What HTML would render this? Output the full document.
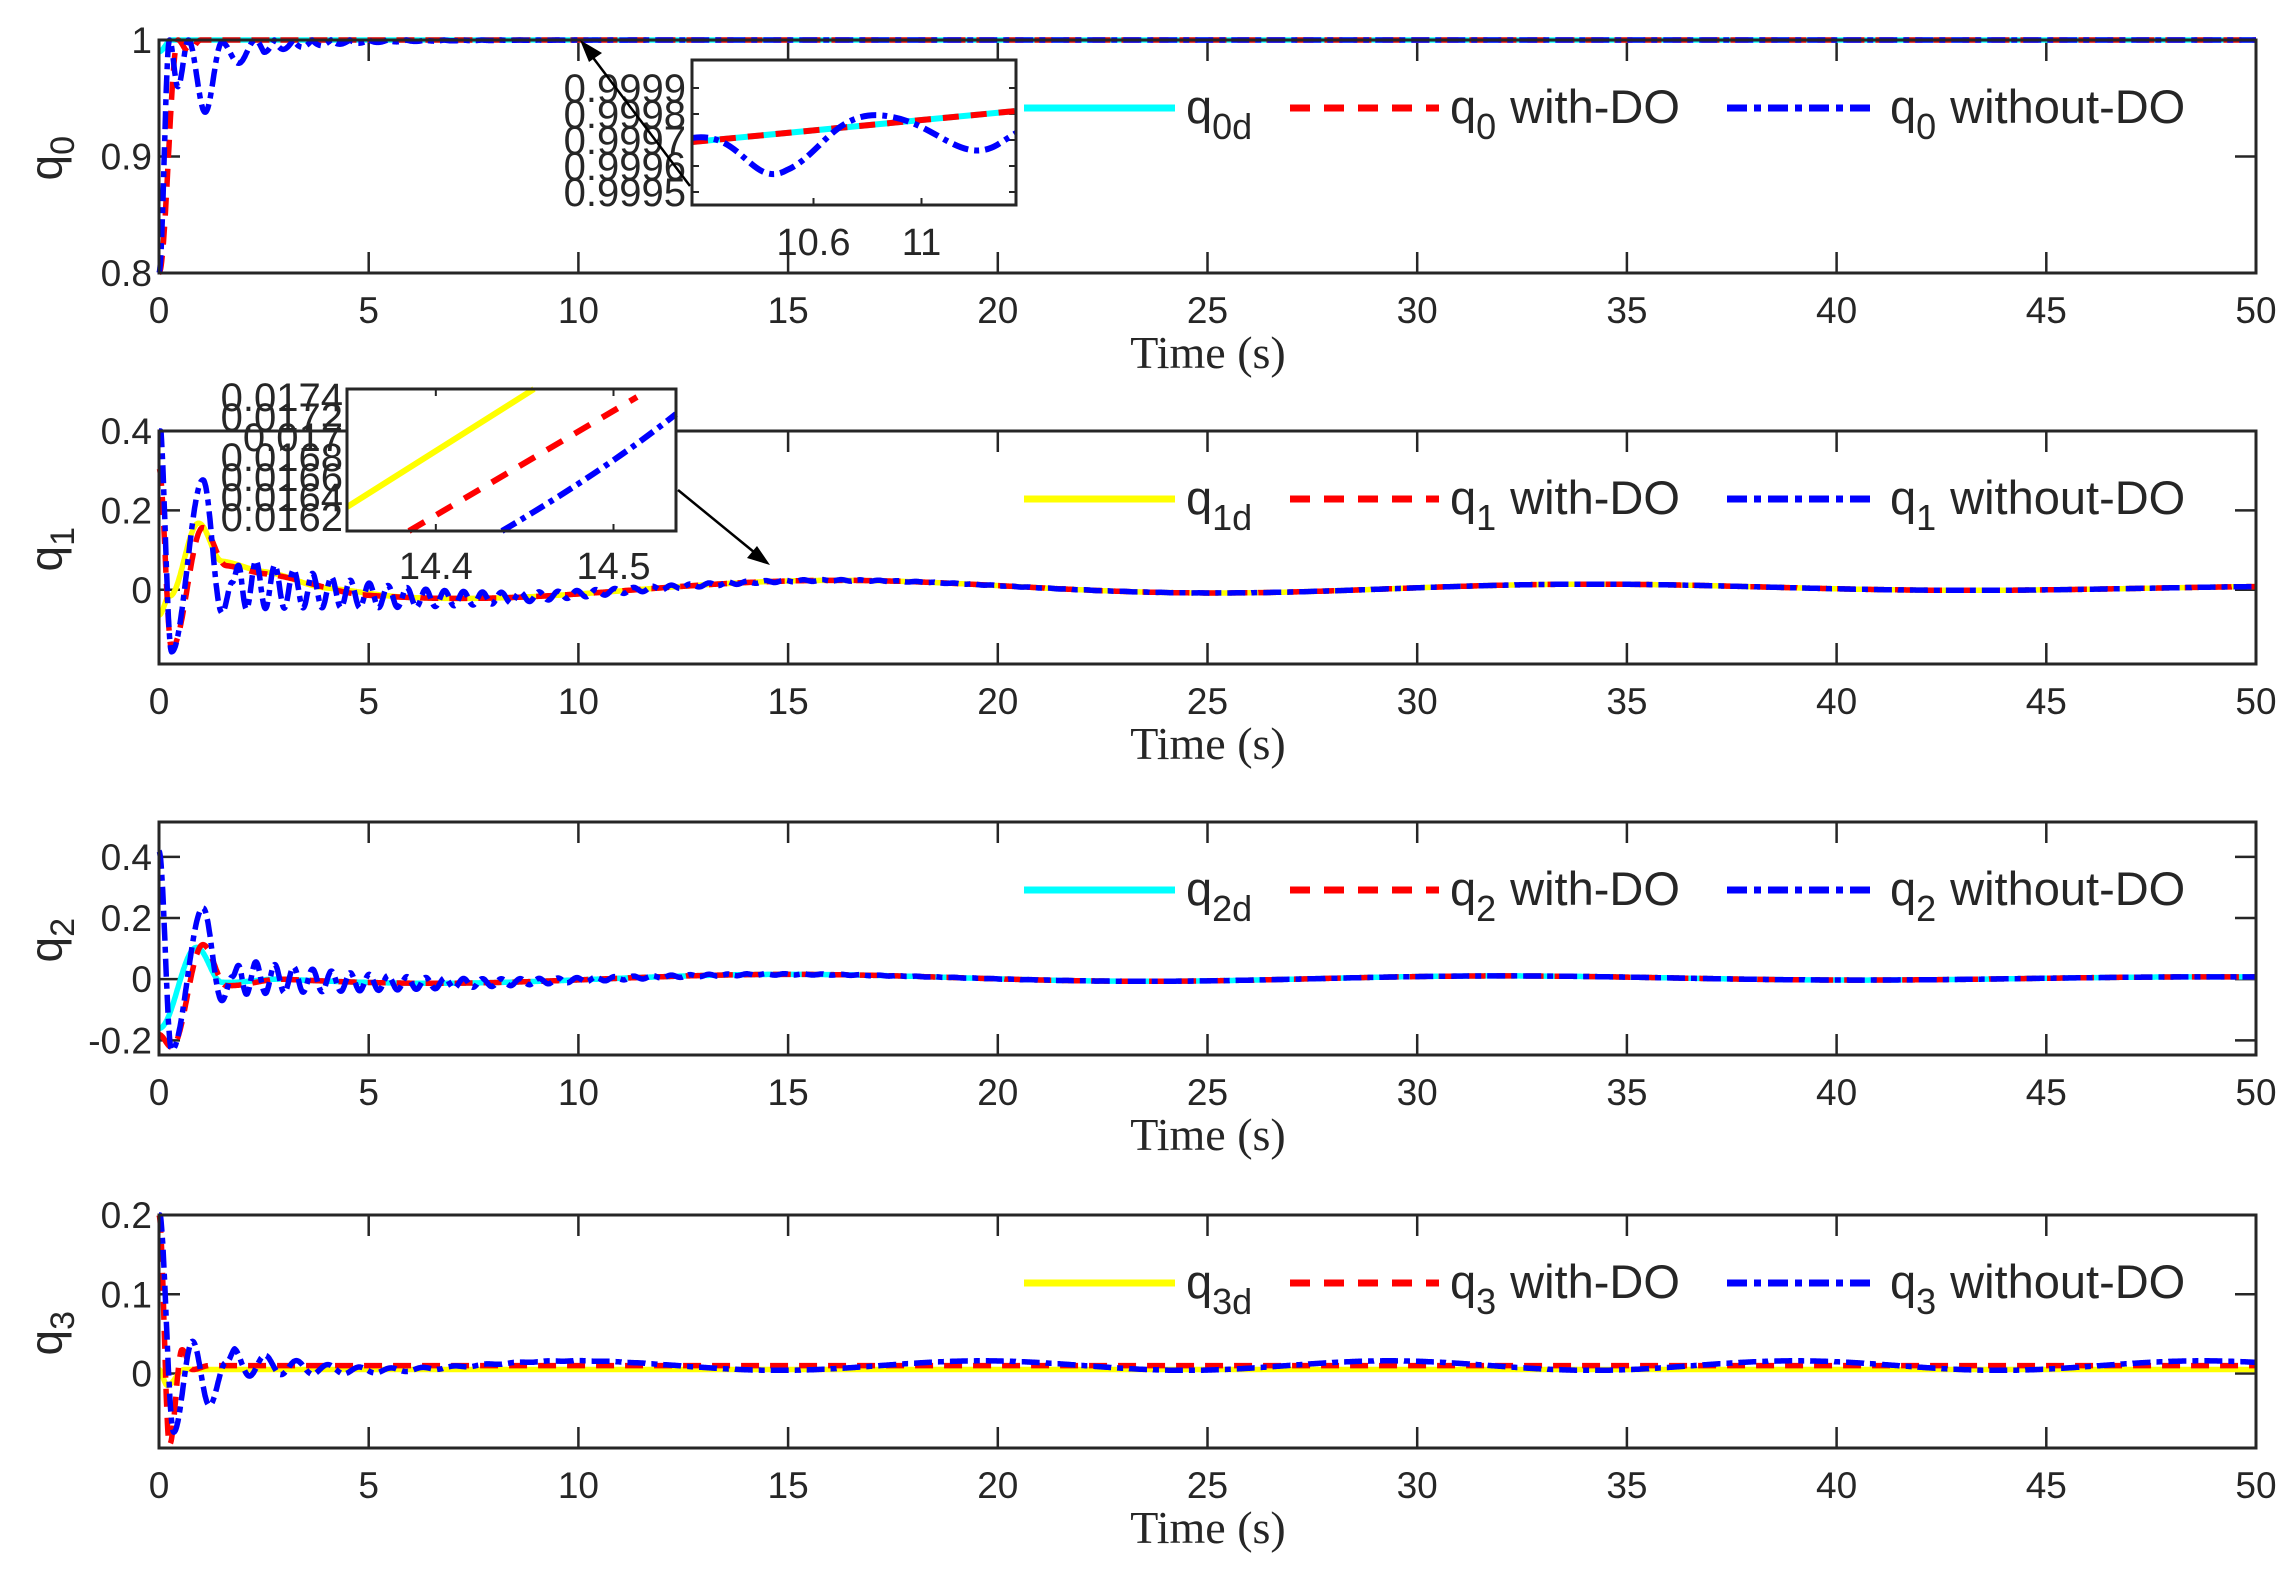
<!DOCTYPE html>
<html><head><meta charset="utf-8"><style>
html,body{margin:0;padding:0;background:#fff;}
svg{display:block;}
text{font-family:"Liberation Sans",sans-serif;fill:#262626;}
.serif{font-family:"Liberation Serif",serif;}
</style></head><body>
<svg id="s" width="2295" height="1579" viewBox="0 0 2295 1579" xmlns="http://www.w3.org/2000/svg"></svg>
<script>
const S=document.getElementById('s');const NS='http://www.w3.org/2000/svg';
function el(t,a,txt){const e=document.createElementNS(NS,t);for(const k in a)e.setAttribute(k,a[k]);if(txt!==undefined)e.textContent=txt;S.appendChild(e);return e;}
const L=159,R=2256,W=R-L,H=233;
const tops=[40,431,822,1215];
const yr=[[0.8,1],[-0.187,0.4],[-0.248,0.514],[-0.094,0.2]];
const yt=[[0.8,0.9,1],[0,0.2,0.4],[-0.2,0,0.2,0.4],[0,0.1,0.2]];
const ylab=['0','1','2','3'];
const dcol=['#00ffff','#ffff00','#00ffff','#ffff00'];
function X(t){return L+t/50*W;}
function Yf(i){const[a,b]=yr[i];return v=>tops[i]+H-(v-a)/(b-a)*H;}
function kp(t,p){if(t>=p[p.length-1][0])return p[p.length-1][1];
 for(let k=0;k<p.length-1;k++){if(t<=p[k+1][0]){const u=(t-p[k][0])/(p[k+1][0]-p[k][0]);return p[k][1]+(p[k+1][1]-p[k][1])*(1-Math.cos(Math.PI*u))/2;}}return 0;}
function tail(t,t0,A,P,k){if(t<t0)return 0;const d=t-t0;return A*Math.exp(-k*d)*Math.sin(2*Math.PI*d/P)*Math.min(1,d/0.2);}
function slow1(t){return 0.03*Math.sin(2*Math.PI*(t-12)/18)*Math.exp(-0.04*t)*1.2+0.005;}
function slow2(t){return 0.02*Math.sin(2*Math.PI*(t-11)/17)*Math.exp(-0.03*t)+0.003;}
function slow3(t){return 0.006*Math.sin(2*Math.PI*(t-7.5)/9.7);}
const fns=[
 [t=>1+kp(t,[[0,-0.01],[0.3,0]]),
  t=>1+kp(t,[[0,-0.2],[0.45,0],[0.7,-0.01],[1,0]]),
  t=>1+Math.min(0,kp(t,[[0,-0.2],[0.25,0],[0.45,-0.04],[0.7,0],[1.1,-0.062],[1.5,-0.002],[1.9,-0.02],[2.3,0]])-Math.abs(tail(t,2.3,0.012,0.9,0.6)))],
 [t=>slow1(t)+kp(t,[[0,-0.1],[0.25,-0.05],[0.95,0.14],[1.5,0.05],[2.5,0.035],[4,0.01],[6,0]]),
  t=>slow1(t)+kp(t,[[0,0.27],[0.3,-0.18],[1.05,0.13],[1.6,0.04],[2.5,0.03],[5,0]]),
  t=>slow1(t)+kp(t,[[0,0.4],[0.3,-0.19],[1.05,0.25],[1.5,-0.08],[1.75,0]])+tail(t,1.75,0.07,0.45,0.25)],
 [t=>slow2(t)+kp(t,[[0,-0.18],[0.9,0.09],[1.5,-0.02],[3,0]]),
  t=>slow2(t)+kp(t,[[0,-0.2],[0.3,-0.24],[1.05,0.1],[1.6,-0.03],[3,0]]),
  t=>slow2(t)+kp(t,[[0,0.4],[0.3,-0.25],[1.05,0.22],[1.5,-0.08],[1.75,0]])+tail(t,1.75,0.06,0.45,0.25)],
 [t=>0.005+kp(t,[[0,0],[0.2,-0.02],[0.6,0]]),
  t=>0.01+kp(t,[[0,0.19],[0.25,-0.1],[0.55,0.02],[0.8,-0.005],[1.2,0]]),
  t=>0.01+slow3(t)+kp(t,[[0,0.19],[0.35,-0.09],[0.8,0.025],[1.2,-0.055],[1.6,0]])+tail(t,1.6,0.02,0.75,0.5)]
];
for(let i=0;i<4;i++){
 const T=tops[i],Y=Yf(i);
 for(let k=0;k<=10;k++){const x=X(k*5);
  el('line',{x1:x,y1:T+H,x2:x,y2:T+H-21,stroke:'#262626','stroke-width':2.5});
  el('line',{x1:x,y1:T,x2:x,y2:T+21,stroke:'#262626','stroke-width':2.5});
  el('text',{x:x,y:T+H+50,'font-size':37,'text-anchor':'middle'},String(k*5));}
 yt[i].forEach(v=>{const y=Y(v);
  el('line',{x1:L,y1:y,x2:L+21,y2:y,stroke:'#262626','stroke-width':2.5});
  el('line',{x1:R,y1:y,x2:R-21,y2:y,stroke:'#262626','stroke-width':2.5});
  el('text',{x:L-7,y:y+13,'font-size':37,'text-anchor':'end'},String(v));});
 el('text',{x:1208,y:T+H+95,'font-size':46,'text-anchor':'middle',class:'serif'},'Time (s)');
 const g=el('text',{x:0,y:0,'font-size':46,transform:`translate(62,${T+H/2+24}) rotate(-90)`});
 g.innerHTML=`q<tspan font-size="34" dy="12">${ylab[i]}</tspan>`;
 const styles=[{c:dcol[i],d:'none'},{c:'#ff0000',d:'18 11'},{c:'#0000ff',d:'18 6 6 6'}];
 for(let s=0;s<3;s++){let p='';for(let n=0;n<=4000;n++){const t=n/80;let v=fns[i][s](t);
   const y=Math.max(T,Math.min(T+H,Y(v)));p+=(n?'L':'M')+X(t).toFixed(1)+' '+y.toFixed(1);}
  el('path',{d:p,fill:'none',stroke:styles[s].c,'stroke-width':5.5,'stroke-dasharray':styles[s].d,'stroke-linejoin':'round'});}
 el('rect',{x:L,y:T,width:W,height:H,fill:'none',stroke:'#262626','stroke-width':3});
 const ly=T+68;
 el('line',{x1:1024,y1:ly,x2:1175,y2:ly,stroke:dcol[i],'stroke-width':7});
 el('line',{x1:1290,y1:ly,x2:1439,y2:ly,stroke:'#ff0000','stroke-width':7,'stroke-dasharray':'20 14'});
 el('line',{x1:1727,y1:ly,x2:1877,y2:ly,stroke:'#0000ff','stroke-width':7,'stroke-dasharray':'20 7 7 7'});
 let a=el('text',{x:1186,y:ly+15,'font-size':47});a.innerHTML=`q<tspan font-size="36" dy="16">${ylab[i]}d</tspan>`;
 a=el('text',{x:1450,y:ly+15,'font-size':47});a.innerHTML=`q<tspan font-size="36" dy="16">${ylab[i]}</tspan><tspan dy="-16" dx="14">with-DO</tspan>`;
 a=el('text',{x:1890,y:ly+15,'font-size':47});a.innerHTML=`q<tspan font-size="36" dy="16">${ylab[i]}</tspan><tspan dy="-16" dx="14">without-DO</tspan>`;
}
// inset 1
(function(){const x0=692,y0=60,w=324,h=145;
 el('rect',{x:x0,y:y0,width:w,height:h,fill:'#fff'});
 ['0.9999','0.9998','0.9997','0.9996','0.9995'].forEach((s,k)=>{const y=y0+28+k*26;el('text',{x:x0-6,y:y+14,'font-size':40,'text-anchor':'end'},s);
  el('line',{x1:x0,y1:y,x2:x0+7,y2:y,stroke:'#262626','stroke-width':2});el('line',{x1:x0+w,y1:y,x2:x0+w-7,y2:y,stroke:'#262626','stroke-width':2});});
 [[10.6,'10.6'],[11,'11']].forEach(([v,s])=>{const x=x0+(v-10.15)/(11.35-10.15)*w;
  el('text',{x:x,y:y0+h+50,'font-size':38,'text-anchor':'middle'},s);
  el('line',{x1:x,y1:y0+h,x2:x,y2:y0+h-7,stroke:'#262626','stroke-width':2});});
 el('line',{x1:x0,y1:y0+82,x2:x0+w,y2:y0+51,stroke:'#00ffff','stroke-width':6});
 el('line',{x1:x0,y1:y0+82,x2:x0+w,y2:y0+51,stroke:'#ff0000','stroke-width':6,'stroke-dasharray':'16 12'});
 el('path',{d:`M${x0} ${y0+78} C${x0+50} ${y0+70} ${x0+60} ${y0+130} ${x0+95} ${y0+110} C${x0+130} ${y0+95} ${x0+145} ${y0+45} ${x0+200} ${y0+57} C${x0+245} ${y0+65} ${x0+270} ${y0+105} ${x0+305} ${y0+85} L${x0+w} ${y0+73}`,fill:'none',stroke:'#0000ff','stroke-width':6,'stroke-dasharray':'16 6 5 6'});
 el('rect',{x:x0,y:y0,width:w,height:h,fill:'none',stroke:'#262626','stroke-width':3});
 el('line',{x1:690,y1:186,x2:585,y2:47,stroke:'#000','stroke-width':2.5});
 el('polygon',{points:'580,40 602,53 589,62',fill:'#000'});
})();
// inset 2
(function(){const x0=347,y0=389,w=329,h=142;
 el('rect',{x:x0,y:y0,width:w,height:h,fill:'#fff'});
 ['0.0174','0.0172','0.017','0.0168','0.0166','0.0164','0.0162'].forEach((s,k)=>{const y=y0+8+k*20;
  el('text',{x:x0-4,y:y+14,'font-size':40,'text-anchor':'end'},s);});
 [[0.27,'14.4'],[0.81,'14.5']].forEach(([f,s])=>{const x=x0+f*w;
  el('text',{x:x,y:y0+h+48,'font-size':38,'text-anchor':'middle'},s);
  el('line',{x1:x,y1:y0+h,x2:x,y2:y0+h-7,stroke:'#262626','stroke-width':2});
  el('line',{x1:x,y1:y0,x2:x,y2:y0+7,stroke:'#262626','stroke-width':2});});
 el('line',{x1:x0,y1:y0+118,x2:x0+187,y2:y0,stroke:'#ffff00','stroke-width':6});
 el('line',{x1:x0+62,y1:y0+h,x2:x0+290,y2:y0+8,stroke:'#ff0000','stroke-width':6,'stroke-dasharray':'18 14'});
 el('path',{d:`M${x0+155} ${y0+h} Q${x0+260} ${y0+80} ${x0+w} ${y0+25}`,fill:'none',stroke:'#0000ff','stroke-width':6,'stroke-dasharray':'16 6 5 6'});
 el('rect',{x:x0,y:y0,width:w,height:h,fill:'none',stroke:'#262626','stroke-width':3});
 el('line',{x1:678,y1:490,x2:760,y2:557,stroke:'#000','stroke-width':2.5});
 el('polygon',{points:'770,565 747,558 757,546',fill:'#000'});
})();
</script>
</body></html>
